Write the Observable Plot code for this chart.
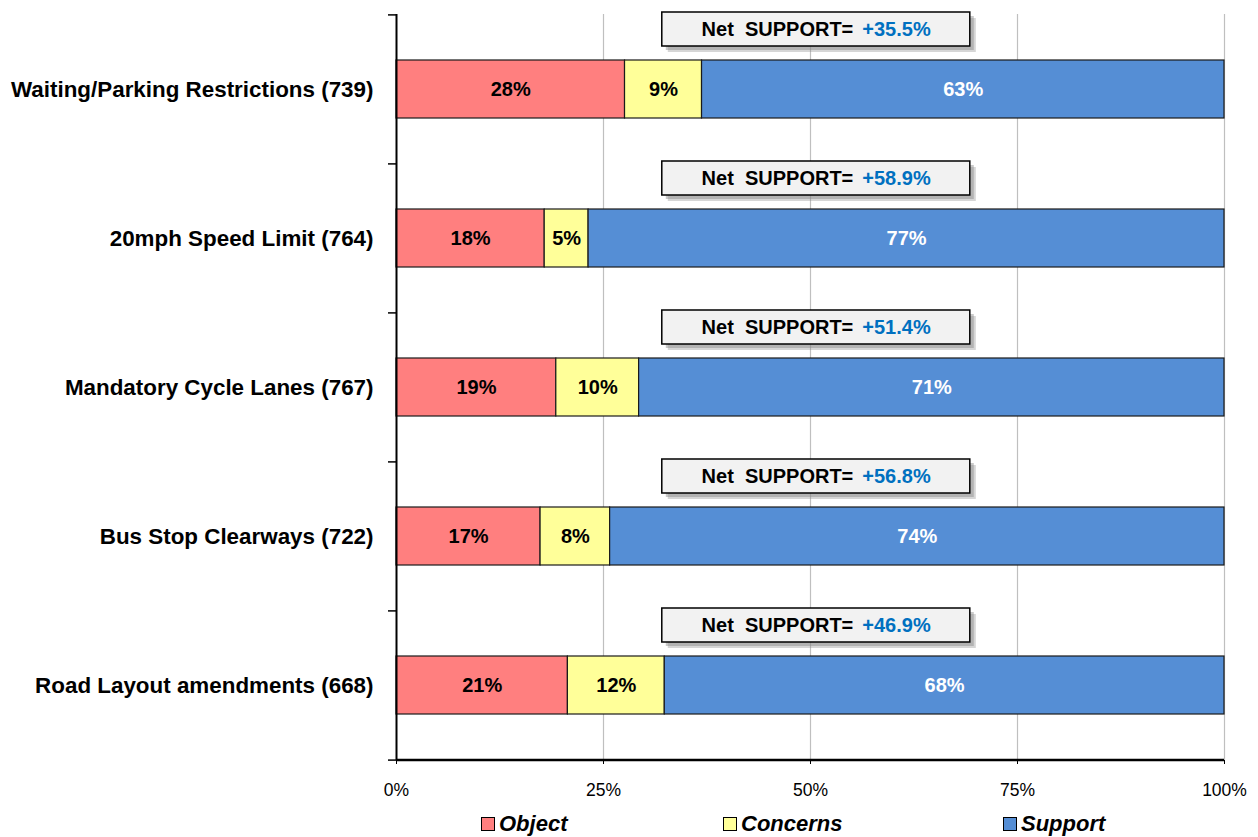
<!DOCTYPE html>
<html>
<head>
<meta charset="utf-8">
<script src="https://cdn.jsdelivr.net/npm/d3@7"></script>
<script src="https://cdn.jsdelivr.net/npm/@observablehq/plot@0.6"></script>
<style>
  body { margin: 0; background: #fff; font-family: "Liberation Sans", Arial, sans-serif; }
  #legend { position: relative; height: 32px; width: 1258px; }
  .item { position: absolute; top: 6px; display: flex; align-items: center; font: italic bold 22px "Liberation Sans", Arial, sans-serif; color: #000; }
  .sw { width: 12px; height: 12px; border: 1px solid #000; margin-right: 4px; }
</style>
</head>
<body>
<div id="chart"></div>
<div id="legend"></div>
<script>
// ---- data ----
const categories = [
  "Waiting/Parking Restrictions (739)",
  "20mph Speed Limit (764)",
  "Mandatory Cycle Lanes (767)",
  "Bus Stop Clearways (722)",
  "Road Layout amendments (668)"
];
const objectPct   = [27.6, 17.9, 19.3, 17.4, 20.7];
const concernsPct = [9.3, 5.3, 10.0, 8.4, 11.7];
const supportPct  = [63.1, 76.8, 70.7, 74.2, 67.6];
const seriesNames = ["Object", "Concerns", "Support"];
const seriesColors = ["#FF7F7F", "#FFFF99", "#558ED5"];
const labelColors = ["#000000", "#000000", "#FFFFFF"];
const xTicks = [0, 25, 50, 75, 100];

// ---- build tables ----
const seriesValues = [objectPct, concernsPct, supportPct];
const rows = [];
categories.forEach((c, i) => {
  seriesNames.forEach((s, j) => rows.push({category: c, series: s, value: seriesValues[j][i]}));
});
const net = categories.map((c, i) => ({
  category: c,
  net: (supportPct[i] - objectPct[i] >= 0 ? "+" : "") + (supportPct[i] - objectPct[i]).toFixed(1) + "%"
}));

// ---- layout ----
const W = 1258, H = 805, mL = 396, mR = 34, mT = 14, mB = 45;
const half = (H - mT - mB) / categories.length / 2;
const boxLeft = 32.1, boxRight = 69.3, boxCenter = (boxLeft + boxRight) / 2;
const boxDy = -60;
const font = '"Liberation Sans", Arial, sans-serif';

const chart = Plot.plot({
  width: W, height: H,
  marginLeft: mL, marginRight: mR, marginTop: mT, marginBottom: mB,
  style: {fontFamily: font, background: "white"},
  x: {domain: [0, 100], label: null},
  y: {domain: categories, paddingInner: 0.61, paddingOuter: 0.305, label: null},
  color: {domain: seriesNames, range: seriesColors},
  marks: [
    Plot.gridX(xTicks.slice(1), {stroke: "#BFBFBF", strokeOpacity: 1, strokeWidth: 1.2}),
    // net support boxes (shadow + box)
    Plot.barX(net, {y: "category", x1: boxLeft, x2: boxRight, insetTop: 12, insetBottom: 12, dx: 6, dy: boxDy + 6, fill: "#8a8a8a", fillOpacity: 0.35}),
    Plot.barX(net, {y: "category", x1: boxLeft, x2: boxRight, insetTop: 12, insetBottom: 12, dx: 4, dy: boxDy + 4, fill: "#8a8a8a", fillOpacity: 0.45}),
    Plot.barX(net, {y: "category", x1: boxLeft, x2: boxRight, insetTop: 12, insetBottom: 12, dy: boxDy, fill: "#F2F2F2", stroke: "#000", strokeWidth: 1.5}),
    Plot.text(net, {y: "category", x: boxCenter, text: () => "Net\u00a0 SUPPORT=", textAnchor: "end", dx: 37, dy: boxDy, fontWeight: "bold", fontSize: 20, fill: "#000"}),
    Plot.text(net, {y: "category", x: boxCenter, text: "net", textAnchor: "start", dx: 46, dy: boxDy, fontWeight: "bold", fontSize: 20, fill: "#0070C0"}),
    // stacked bars
    Plot.barX(rows, {y: "category", x: "value", fill: "series", stroke: "#1a1a1a", strokeWidth: 1.2, order: null}),
    Plot.text(rows, Plot.stackX({y: "category", x: "value", z: "series", order: null,
      text: d => Math.round(d.value) + "%",
      fill: d => labelColors[seriesNames.indexOf(d.series)],
      fontWeight: "bold", fontSize: 20})),
    // axes
    Plot.ruleX([0], {stroke: "#000", strokeWidth: 2}),
    Plot.ruleY([categories[categories.length - 1]], {dy: half, stroke: "#000", strokeWidth: 2.5}),
    Plot.axisY(categories, {tickSize: 8, tickFormat: () => "", label: null, dy: -half, stroke: "#000", strokeWidth: 1.5}),
    Plot.axisY([categories[categories.length - 1]], {tickSize: 8, tickFormat: () => "", label: null, dy: half, stroke: "#000", strokeWidth: 1.5}),
    Plot.axisY({tickSize: 0, tickPadding: 23, fontSize: 22.4, fontWeight: "bold", fill: "#000", label: null}),
    Plot.axisX(xTicks, {tickSize: 4, tickPadding: 19, tickFormat: d => d + "%", fontSize: 17.5, stroke: "#000", fill: "#000", label: null})
  ]
});
document.getElementById("chart").appendChild(chart);

// ---- legend ----
const legendX = [481, 723, 1003];
const legend = document.getElementById("legend");
seriesNames.forEach((s, i) => {
  const it = document.createElement("div");
  it.className = "item";
  it.style.left = legendX[i] + "px";
  const sw = document.createElement("span");
  sw.className = "sw";
  sw.style.background = seriesColors[i];
  it.appendChild(sw);
  it.appendChild(document.createTextNode(s));
  legend.appendChild(it);
});
</script>
</body>
</html>
